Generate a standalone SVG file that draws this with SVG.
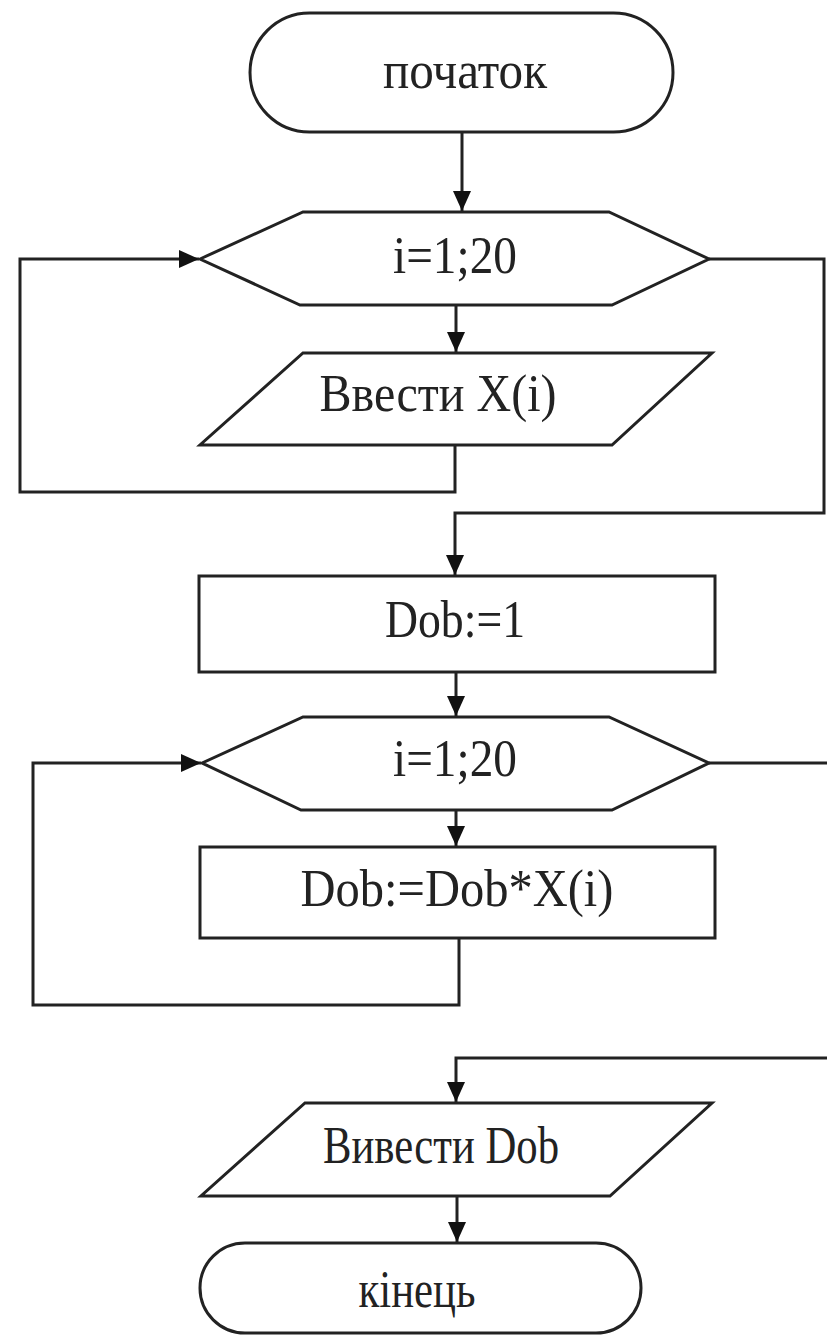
<svg xmlns="http://www.w3.org/2000/svg" width="827" height="1335" viewBox="0 0 827 1335">
<style>
.s{fill:#fff;stroke:#222;stroke-width:3}
.c{fill:none;stroke:#222;stroke-width:3}
.t{font-family:"Liberation Serif","Times New Roman",serif;font-size:52px;fill:#222;text-anchor:middle}
</style>
<defs>
<marker id="a" markerWidth="20" markerHeight="18" refX="20" refY="9" orient="auto" markerUnits="userSpaceOnUse">
<path d="M0,0 L20,9 L0,18 Z" fill="#111"/>
</marker>
</defs>
<rect width="827" height="1335" fill="#fff"/>
<g id="connectors">
<path class="c" d="M462,132 V211" marker-end="url(#a)"/>
<path class="c" d="M456,305 V352" marker-end="url(#a)"/>
<path class="c" d="M455,445 V492 H20 V259 H199" marker-end="url(#a)"/>
<path class="c" d="M709,259 H824 V513 H455 V575" marker-end="url(#a)"/>
<path class="c" d="M456,672 V716" marker-end="url(#a)"/>
<path class="c" d="M456,810 V846" marker-end="url(#a)"/>
<path class="c" d="M459,938 V1005 H33 V763 H201" marker-end="url(#a)"/>
<path class="c" d="M709,763 H827"/>
<path class="c" d="M827,1058 H456 V1102" marker-end="url(#a)"/>
<path class="c" d="M457,1196 V1242" marker-end="url(#a)"/>
</g>
<g id="start">
<rect class="s" x="250" y="13" width="423" height="119" rx="59.5"/>
<text class="t" x="465" y="88" textLength="164" lengthAdjust="spacingAndGlyphs">початок</text>
</g>
<g id="loop1">
<polygon class="s" points="200,259 303,212 609,212 709,259 612,305 300,305"/>
<text class="t" x="455" y="273" textLength="124" lengthAdjust="spacingAndGlyphs">i=1;20</text>
</g>
<g id="input">
<polygon class="s" points="303,353 712,353 612,445 200,445"/>
<text class="t" x="438" y="411" textLength="237" lengthAdjust="spacingAndGlyphs">Ввести X(i)</text>
</g>
<g id="init">
<rect class="s" x="199" y="576" width="516" height="96"/>
<text class="t" x="455" y="637" textLength="140" lengthAdjust="spacingAndGlyphs">Dob:=1</text>
</g>
<g id="loop2">
<polygon class="s" points="202,763 303,717 609,717 709,763 612,810 301,810"/>
<text class="t" x="455" y="776" textLength="124" lengthAdjust="spacingAndGlyphs">i=1;20</text>
</g>
<g id="multiply">
<rect class="s" x="200" y="847" width="515" height="91"/>
<text class="t" x="457" y="906" textLength="313" lengthAdjust="spacingAndGlyphs">Dob:=Dob*X(i)</text>
</g>
<g id="output">
<polygon class="s" points="305,1103 712,1103 610,1196 201,1196"/>
<text class="t" x="441" y="1163" textLength="236" lengthAdjust="spacingAndGlyphs">Вивести Dob</text>
</g>
<g id="end">
<rect class="s" x="200" y="1243" width="441" height="90" rx="45"/>
<text class="t" x="417" y="1307" textLength="117" lengthAdjust="spacingAndGlyphs">кінець</text>
</g>
</svg>
